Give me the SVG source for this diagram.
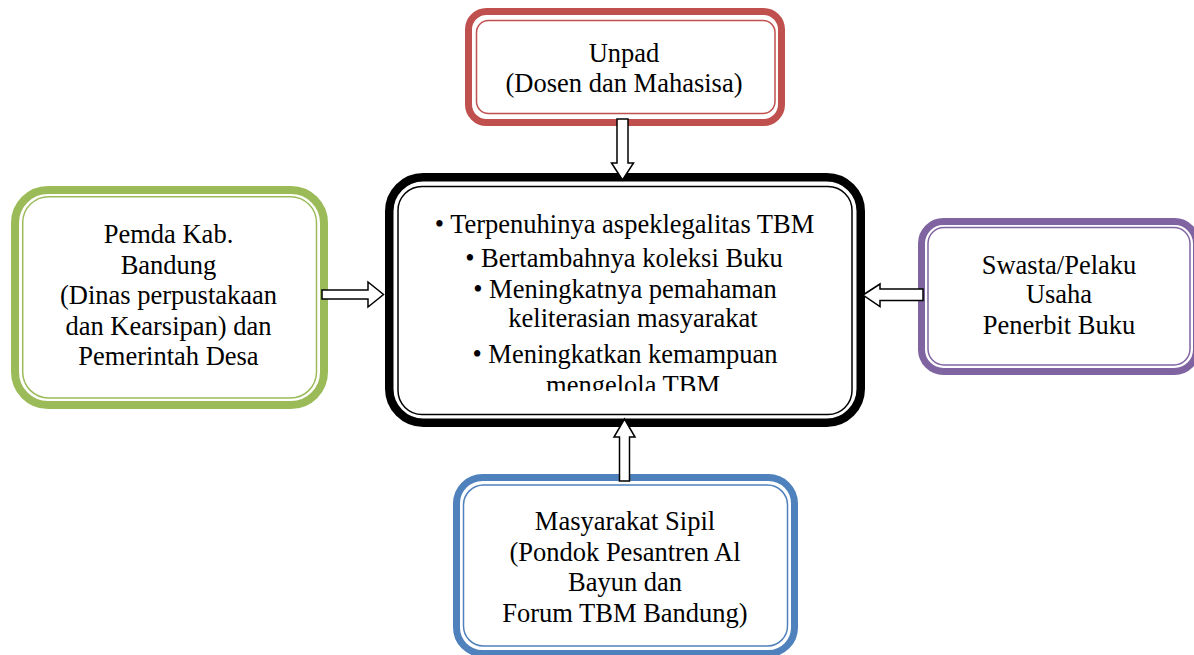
<svg xmlns="http://www.w3.org/2000/svg" width="1194" height="655" viewBox="0 0 1194 655">
<style>
.t{font-family:'Liberation Serif','DejaVu Serif',serif;font-size:26.5px;fill:#000;text-anchor:middle}
.box{fill:#fff}
.thin{fill:none;stroke-width:1.5}
.red{stroke:#C0504D}
.green{stroke:#9BBB59}
.purple{stroke:#8064A2}
.blue{stroke:#4F81BD}
.black{stroke:#000}
.arrow{fill:#fff;stroke:#000;stroke-width:1.5;stroke-linejoin:miter}
</style>
<defs>
<clipPath id="cclip"><rect x="390" y="180" width="470" height="211"/></clipPath>
</defs>
<rect width="1194" height="655" fill="#fff"/>
<g id="node-unpad">
<rect class="box red" x="468.5" y="11.5" width="313" height="111" rx="18" stroke-width="7"/>
<rect class="thin red" x="476.5" y="20.5" width="298.5" height="93" rx="12"/>
<text class="t" font-family="Liberation Serif" x="624" y="62">Unpad</text>
<text class="t" font-family="Liberation Serif" x="624" y="92">(Dosen dan Mahasisa)</text>
</g>
<g id="node-center">
<rect class="box black" x="389.25" y="177.25" width="471.5" height="245.5" rx="34" stroke-width="8.5"/>
<rect class="thin black" x="398" y="186.5" width="454" height="228" rx="24"/>
<g clip-path="url(#cclip)">
<text class="t" x="624.5" y="233">• Terpenuhinya aspeklegalitas TBM</text>
<text class="t" x="624" y="266.5">• Bertambahnya koleksi Buku</text>
<text class="t" x="625" y="298">• Meningkatnya pemahaman</text>
<text class="t" x="633" y="327">keliterasian masyarakat</text>
<text class="t" x="625" y="363">• Meningkatkan kemampuan</text>
<text class="t" x="633" y="394">mengelola TBM</text>
</g>
</g>
<g id="node-pemda">
<rect class="box green" x="15" y="190" width="309" height="215" rx="33" stroke-width="8"/>
<rect class="thin green" x="22.7" y="196.7" width="293.8" height="201.3" rx="26"/>
<text class="t" x="168.5" y="243">Pemda Kab.</text>
<text class="t" x="168.5" y="273.5">Bandung</text>
<text class="t" x="168.5" y="304">(Dinas perpustakaan</text>
<text class="t" x="168.5" y="335">dan Kearsipan) dan</text>
<text class="t" x="168.5" y="365">Pemerintah Desa</text>
</g>
<g id="node-swasta">
<rect class="box purple" x="921.5" y="221.5" width="275" height="150" rx="22" stroke-width="7"/>
<rect class="thin purple" x="928" y="227.5" width="262" height="137.5" rx="16"/>
<text class="t" x="1059" y="273.5">Swasta/Pelaku</text>
<text class="t" x="1059" y="303">Usaha</text>
<text class="t" x="1059" y="334">Penerbit Buku</text>
</g>
<g id="node-masyarakat">
<rect class="box blue" x="456.5" y="477.5" width="338" height="176" rx="26" stroke-width="7"/>
<rect class="thin blue" x="463.5" y="485" width="324" height="161" rx="20"/>
<text class="t" x="625" y="530">Masyarakat Sipil</text>
<text class="t" x="625" y="560.5">(Pondok Pesantren Al</text>
<text class="t" x="625" y="591">Bayun dan</text>
<text class="t" x="625" y="621.5">Forum TBM Bandung)</text>
</g>
<g id="connectors">
<path class="arrow" d="M617,119 H628 V163 H633.5 L622.5,180 L611.5,163 H617 Z"/>
<path class="arrow" d="M624.5,419 L635,437 H629.5 V481 H619.5 V437 H614 Z"/>
<path class="arrow" d="M322,290 H368 V282 L383.5,294.5 L368,307 V299 H322 Z"/>
<path class="arrow" d="M863,295 L880,284 V289 H923 V300.5 H880 V306.5 Z"/>
</g>
</svg>
